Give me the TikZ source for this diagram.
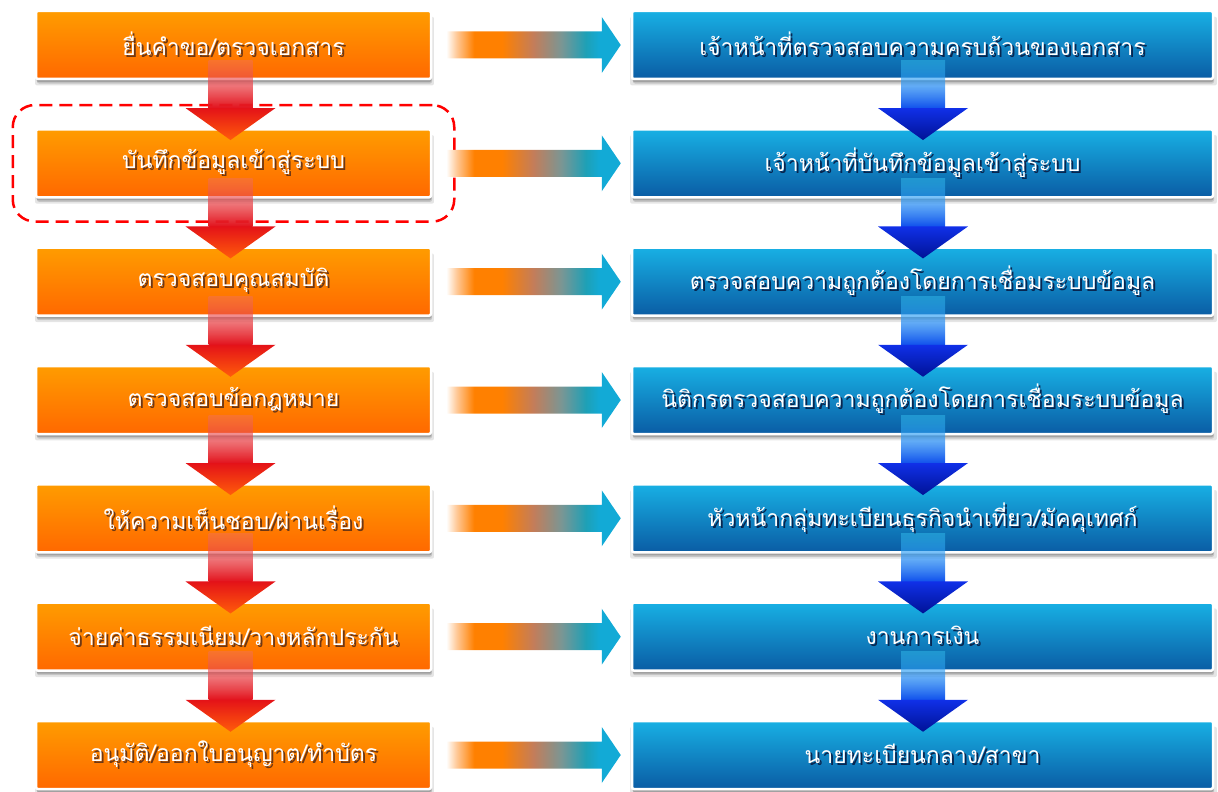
\documentclass[tikz,border=0pt]{standalone}
\usepackage{fontspec}
\newfontfamily\thaifont[Script=Thai]{Loma}
\usetikzlibrary{shadows,fadings,fit,calc}

% box colours
\definecolor{orTop}{RGB}{255,156,0}
\definecolor{orBot}{RGB}{255,104,0}
\definecolor{blTop}{RGB}{24,176,228}
\definecolor{blBot}{RGB}{10,92,164}
% vertical arrow colours
\definecolor{rsTop}{RGB}{238,110,110}
\definecolor{rsBot}{RGB}{226,18,28}
\definecolor{rhTop}{RGB}{228,18,24}
\definecolor{rhBot}{RGB}{255,92,10}
\definecolor{bsTop}{RGB}{60,205,250}
\definecolor{bsBot}{RGB}{16,80,236}
\definecolor{bhTop}{RGB}{16,48,232}
\definecolor{bhBot}{RGB}{0,18,150}
% horizontal arrow colours
\definecolor{haA}{RGB}{255,200,150}
\definecolor{haB}{RGB}{255,128,0}
\definecolor{haC}{RGB}{195,125,90}
\definecolor{haD}{RGB}{122,150,148}
\definecolor{haE}{RGB}{30,160,182}
\definecolor{haF}{RGB}{18,170,214}
% text shadows
\definecolor{lshadow}{RGB}{110,55,20}
\definecolor{rshadow}{RGB}{8,38,80}

\pgfdeclarehorizontalshading{hshade}{100bp}{%
  color(0bp)=(white); color(25bp)=(white); color(28bp)=(haA);
  color(33bp)=(haB); color(41bp)=(haB); color(50bp)=(haC);
  color(58bp)=(haD); color(65bp)=(haE); color(69bp)=(haF);
  color(75bp)=(haF); color(100bp)=(haF)}

\tikzfading[name=shaftfade, top color=transparent!60, bottom color=transparent!0]

% white text with a dark offset copy beneath it
\newcommand\txs[2]{\leavevmode\rlap{\kern2pt\raisebox{-2pt}{\textcolor{#1}{#2}}}#2}

% gradient arrow from the east side of one node to the west side of another
\newcommand\harrow[2]{%
  \shade[shading=hshade] let \p1=(#1.east), \p2=(#2.west) in
    (\x1+14pt,\y1+13.5pt) -- (\x2-29pt,\y1+13.5pt) -- (\x2-29pt,\y1+28pt)
    -- (\x2-10pt,\y1) -- (\x2-29pt,\y1-28pt) -- (\x2-29pt,\y1-13.5pt)
    -- (\x1+14pt,\y1-13.5pt) -- cycle;}

% downward block arrow from one node into the next (#5 = sideways offset)
\newcommand\varrow[5]{%
  \path[#3] let \p1=(#1.south), \p2=(#2.north) in
    (\x1+#5-22pt,\y1+20pt) rectangle (\x1+#5+22pt,\y2+20pt);
  \path[#4] let \p1=(#1.south), \p2=(#2.north) in
    (\x1+#5-45pt,\y2+20pt) -- (\x1+#5+45pt,\y2+20pt) -- (\x1+#5,\y2-12pt) -- cycle;}

\tikzset{
  softshadow/.style={
    drop shadow={shadow xshift=1pt, shadow yshift=-6pt, shadow scale=1.01, opacity=0.10, fill=black},
    drop shadow={shadow xshift=1pt, shadow yshift=-4.5pt, opacity=0.14, fill=black},
    drop shadow={shadow xshift=0.5pt, shadow yshift=-3pt, opacity=0.18, fill=black}},
  box/.style={rectangle, rounded corners=2pt, draw=white, line width=2.5pt,
    minimum height=68pt, inner sep=0pt, text=white,
    font=\thaifont\fontsize{23}{27}\selectfont, softshadow},
  lbox/.style={box, minimum width=395pt, top color=orTop, bottom color=orBot},
  rbox/.style={box, minimum width=581pt, top color=blTop, bottom color=blBot},
  redshaft/.style={top color=rsTop, bottom color=rsBot, path fading=shaftfade},
  redhead/.style={top color=rhTop, bottom color=rhBot},
  blueshaft/.style={top color=bsTop, bottom color=bsBot, path fading=shaftfade},
  bluehead/.style={top color=bhTop, bottom color=bhBot},
  dashbox/.style={draw=red, line width=2.5pt, rounded corners=22pt,
    dash pattern=on 13pt off 7pt},
}

\begin{document}
\begin{tikzpicture}[x=1pt, y=-1pt]
\useasboundingbox (0,0) rectangle (1218,792);

% left column: steps
\node[lbox] (l1) at (233.5,45)    {\txs{lshadow}{ยื่นคำขอ/ตรวจเอกสาร}};
\node[lbox] (l2) at (233.5,163.3) {\txs{lshadow}{บันทึกข้อมูลเข้าสู่ระบบ}};
\node[lbox] (l3) at (233.5,281.7) {\txs{lshadow}{ตรวจสอบคุณสมบัติ}};
\node[lbox] (l4) at (233.5,400)   {\txs{lshadow}{ตรวจสอบข้อกฎหมาย}};
\node[lbox] (l5) at (233.5,518.3) {\txs{lshadow}{ให้ความเห็นชอบ/ผ่านเรื่อง}};
\node[lbox] (l6) at (233.5,636.7) {\txs{lshadow}{จ่ายค่าธรรมเนียม/วางหลักประกัน}};
\node[lbox] (l7) at (233.5,755)   {\txs{lshadow}{อนุมัติ/ออกใบอนุญาต/ทำบัตร}};

% right column: responsible parties
\node[rbox] (r1) at (922.5,45)    {\txs{rshadow}{เจ้าหน้าที่ตรวจสอบความครบถ้วนของเอกสาร}};
\node[rbox] (r2) at (922.5,163.3) {\txs{rshadow}{เจ้าหน้าที่บันทึกข้อมูลเข้าสู่ระบบ}};
\node[rbox] (r3) at (922.5,281.7) {\txs{rshadow}{ตรวจสอบความถูกต้องโดยการเชื่อมระบบข้อมูล}};
\node[rbox] (r4) at (922.5,400)   {\txs{rshadow}{นิติกรตรวจสอบความถูกต้องโดยการเชื่อมระบบข้อมูล}};
\node[rbox] (r5) at (922.5,518.3) {\txs{rshadow}{หัวหน้ากลุ่มทะเบียนธุรกิจนำเที่ยว/มัคคุเทศก์}};
\node[rbox] (r6) at (922.5,636.7) {\txs{rshadow}{งานการเงิน}};
\node[rbox] (r7) at (922.5,755)   {\txs{rshadow}{นายทะเบียนกลาง/สาขา}};

% highlighted step
\node[dashbox, fit=(l2), inner xsep=22pt, inner ysep=23pt] (focus) {};

% flow arrows
\foreach \a/\b in {1/2,2/3,3/4,4/5,5/6,6/7}{
  \varrow{l\a}{l\b}{redshaft}{redhead}{-3pt}
  \varrow{r\a}{r\b}{blueshaft}{bluehead}{0.5pt}
}
\foreach \i in {1,...,7}{\harrow{l\i}{r\i}}
\end{tikzpicture}
\end{document}
